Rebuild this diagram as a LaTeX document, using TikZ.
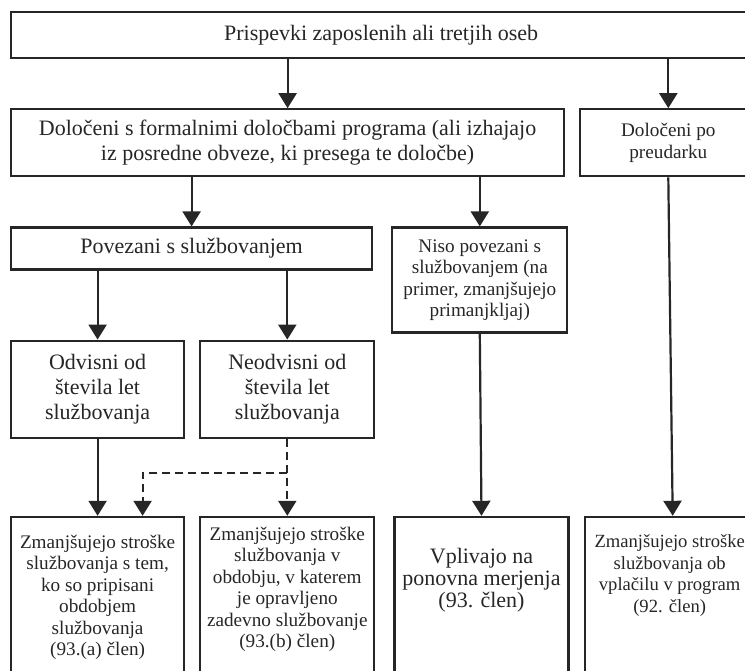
\documentclass[tikz,border=0pt]{standalone}
\usepackage{fontspec}
\setmainfont{Liberation Serif}
\usetikzlibrary{
  arrows.meta,
  positioning,
  calc
}

\begin{document}
\begin{tikzpicture}[
    every node/.style={text=black!85},
    bigtext/.style={font=\fontsize{22}{25}\selectfont},
    smalltext/.style={font=\fontsize{19.2}{21.5}\selectfont},
    box/.style 2 args={
      draw=black!85,
      line width=2.2pt,
      align=center,
      inner sep=0pt,
      minimum width=#1,
      minimum height=#2
    },
    costbox/.style 2 args={
      draw=black!85,
      line width=2.2pt,
      align=center,
      inner xsep=0pt,
      inner ysep=#2,
      minimum width=#1,
      text depth=150pt
    },
    ar/.style={-{Triangle[length=15pt,width=18pt]}, line width=2.2pt, draw=black!85},
    dash ar/.style={ar, dash pattern=on 8pt off 5pt}
  ]
    \useasboundingbox (0,0) rectangle (745pt,-670pt);
    \clip (0,0) rectangle (745pt,-670pt);

    % top row: contributions
    \node[box={740pt}{46pt}, bigtext, anchor=north west] (contrib) at (10pt,-11pt)
      {Prispevki zaposlenih ali tretjih oseb};

    % second row: formal terms / discretionary
    \node[box={553pt}{67pt}, bigtext, below=49pt of contrib.south west, anchor=north west] (formal)
      {Določeni s formalnimi določbami programa (ali izhajajo\\iz posredne obveze, ki presega te določbe)};
    \node[box={176pt}{67pt}, smalltext, right=14pt of formal.north east, anchor=north west] (discr)
      {Določeni po\\preudarku};

    % third row: linked to service or not
    \node[box={361pt}{42pt}, bigtext, below=49pt of formal.south west, anchor=north west] (service)
      {Povezani s službovanjem};
    \node[box={175pt}{105pt}, smalltext, right=18pt of service.north east, anchor=north west] (nonservice)
      {Niso povezani s\\službovanjem (na\\primer, zmanjšujejo\\primanjkljaj)};

    % fourth row: depends on years of service
    \node[box={173pt}{97pt}, bigtext, below=69pt of service.south west, anchor=north west] (dependent)
      {Odvisni od\\števila let\\službovanja};
    \node[box={174pt}{97pt}, bigtext, right=14pt of dependent.north east, anchor=north west] (independent)
      {Neodvisni od\\števila let\\službovanja};

    % bottom row: accounting outcome
    \node[costbox={173pt}{18pt}, smalltext, below=77pt of dependent.south west, anchor=north west] (costa)
      {Zmanjšujejo stroške\\službovanja s tem,\\ko so pripisani\\obdobjem\\službovanja\\(93.(a) člen)};
    \node[costbox={174pt}{10pt}, smalltext, right=14pt of costa.north east, anchor=north west] (costb)
      {Zmanjšujejo stroške\\službovanja v\\obdobju, v katerem\\je opravljeno\\zadevno službovanje\\(93.(b) člen)};
    \node[costbox={174pt}{31pt}, font=\fontsize{22}{22}\selectfont, right=18pt of costb.north east, anchor=north west] (remeas)
      {Vplivajo na\\ponovna merjenja\\(93. člen)};
    \node[costbox={170pt}{18pt}, font=\fontsize{18.6}{21.5}\selectfont, right=14pt of remeas.north east, anchor=north west] (costc)
      {Zmanjšujejo stroške\\službovanja ob\\vplačilu v program\\(92. člen)};

    % arrows
    \draw[ar] (formal.north |- contrib.south) -- (formal.north);
    \draw[ar] (discr.north |- contrib.south) -- (discr.north);
    \draw[ar] (service.north |- formal.south) -- (service.north);
    \draw[ar] (nonservice.north |- formal.south) -- (nonservice.north);
    \draw[ar] (dependent.north |- service.south) -- (dependent.north);
    \draw[ar] (independent.north |- service.south) -- (independent.north);
    \draw[ar] (dependent.south) -- (costa.north);
    \draw[ar] (nonservice.south) -- (remeas.north);
    \draw[ar] (discr.south) -- ([xshift=3pt]costc.north);

    % dashed split below the independent box
    \coordinate (split) at ($(independent.south)!0.44!(costb.north)$);
    \draw[dash ar] (independent.south) -- (costb.north);
    \draw[dash ar] (split) -| ([xshift=45pt]costa.north);

  \end{tikzpicture}
\end{document}
